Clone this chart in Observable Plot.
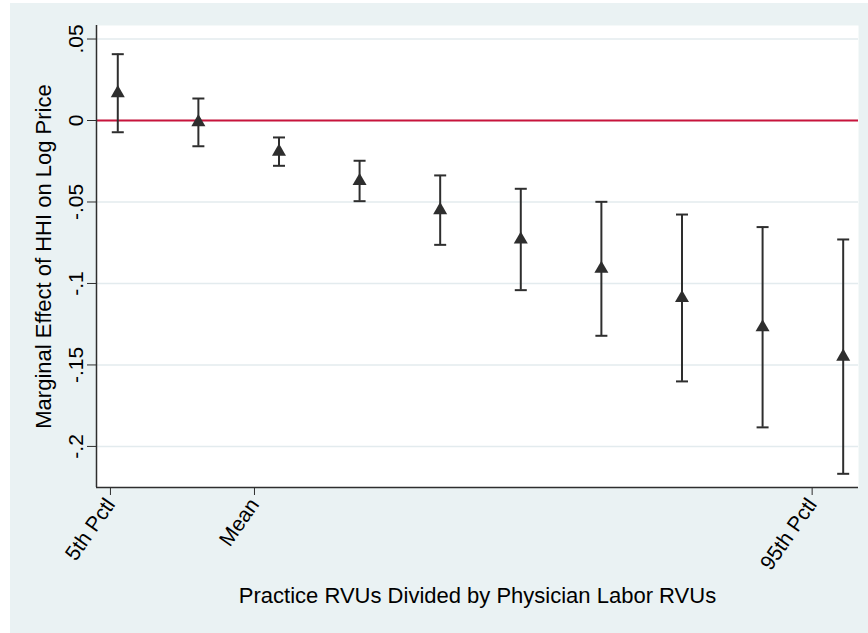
<!DOCTYPE html>
<html>
<head>
<meta charset="utf-8">
<script src="https://cdn.jsdelivr.net/npm/d3@7"></script>
<script src="https://cdn.jsdelivr.net/npm/@observablehq/plot@0.6"></script>
<style>
  html, body { margin: 0; padding: 0; background: #ffffff; }
  #wrap { position: relative; width: 868px; height: 633px; font-family: "Liberation Sans", Arial, sans-serif; }
  #bg { position: absolute; left: 10px; top: 3px; width: 858px; height: 630px; background: #eaf2f3; }
</style>
</head>
<body>
<div id="wrap"><div id="bg"></div></div>
<script>
// Evaluation points (equally spaced along the RVU ratio axis)
const evalPoint = [1, 2, 3, 4, 5, 6, 7, 8, 9, 10];
// Marginal effect estimates and 95% CI bounds
const estimate = [0.0168, -0.0010, -0.0191, -0.0371, -0.0550, -0.0730, -0.0910, -0.1089, -0.1269, -0.1449];
const lower    = [-0.0072, -0.0158, -0.0278, -0.0495, -0.0763, -0.1041, -0.1321, -0.1601, -0.1883, -0.2168];
const upper    = [0.0407, 0.0135, -0.0104, -0.0247, -0.0337, -0.0419, -0.0499, -0.0577, -0.0654, -0.0730];

// Axis ticks
const xTickValues = [0.909, 2.696, 9.615];
const xTickLabels = ["5th Pctl", "Mean", "95th Pctl"];
const yTickValues = [0.05, 0, -0.05, -0.1, -0.15, -0.2];
const yTickLabels = [".05", "0", "-.05", "-.1", "-.15", "-.2"];
const refLine = [0];

const xTitle = "Practice RVUs Divided by Physician Labor RVUs";
const yTitle = "Marginal Effect of HHI on Log Price";

const rows = evalPoint.map((x, i) => ({x, est: estimate[i], lo: lower[i], hi: upper[i]}));

const capSymbol = {
  draw(context, size) {
    const r = Math.sqrt(size / Math.PI);
    context.moveTo(-r, 0);
    context.lineTo(r, 0);
  }
};

const dark = "#2e2e2e";

const chart = Plot.plot({
  width: 868,
  height: 633,
  marginLeft: 96,
  marginRight: 10,
  marginTop: 25,
  marginBottom: 146,
  style: {background: "transparent", position: "absolute", left: "0px", top: "0px", fontFamily: "'Liberation Sans', Arial, sans-serif", color: "#000"},
  x: {domain: [0.736, 10.19]},
  y: {domain: [-0.2252, 0.0583]},
  marks: [
    Plot.frame({fill: "white", stroke: null}),
    Plot.gridY(yTickValues, {stroke: "#e3ebee", strokeOpacity: 1, strokeWidth: 1.5}),
    Plot.ruleY(refLine, {stroke: "#c8143c", strokeWidth: 2}),
    Plot.ruleX(rows, {x: "x", y1: "lo", y2: "hi", stroke: dark, strokeWidth: 2}),
    Plot.dot(rows, {x: "x", y: "lo", symbol: capSymbol, r: 6, stroke: dark, strokeWidth: 2, fill: "none"}),
    Plot.dot(rows, {x: "x", y: "hi", symbol: capSymbol, r: 6, stroke: dark, strokeWidth: 2, fill: "none"}),
    Plot.dot(rows, {x: "x", y: "est", symbol: "triangle", r: 5.2, fill: dark, stroke: null}),
    Plot.axisY({
      ticks: yTickValues,
      tickFormat: (d) => yTickLabels[yTickValues.indexOf(d)],
      tickRotate: -90,
      tickSize: 9,
      tickPadding: 5,
      fontSize: 21,
      stroke: dark,
      fill: "#000",
      label: null
    }),
    Plot.axisX({
      ticks: xTickValues,
      tickFormat: (d) => xTickLabels[xTickValues.indexOf(d)],
      tickRotate: -55,
      tickSize: 8,
      fontSize: 21,
      stroke: dark,
      fill: "#000",
      label: null
    }),
    Plot.ruleX([0.736], {stroke: dark, strokeWidth: 1.5}),
    Plot.ruleY([-0.2252], {stroke: dark, strokeWidth: 1.5}),
    Plot.text([yTitle], {frameAnchor: "left", rotate: -90, dx: -61, lineAnchor: "top", textAnchor: "middle", fontSize: 22, fill: "#000"}),
    Plot.text([xTitle], {frameAnchor: "bottom", dy: 115, lineAnchor: "bottom", textAnchor: "middle", fontSize: 22, fill: "#000"})
  ]
});

document.getElementById("wrap").appendChild(chart);
</script>
</body>
</html>
